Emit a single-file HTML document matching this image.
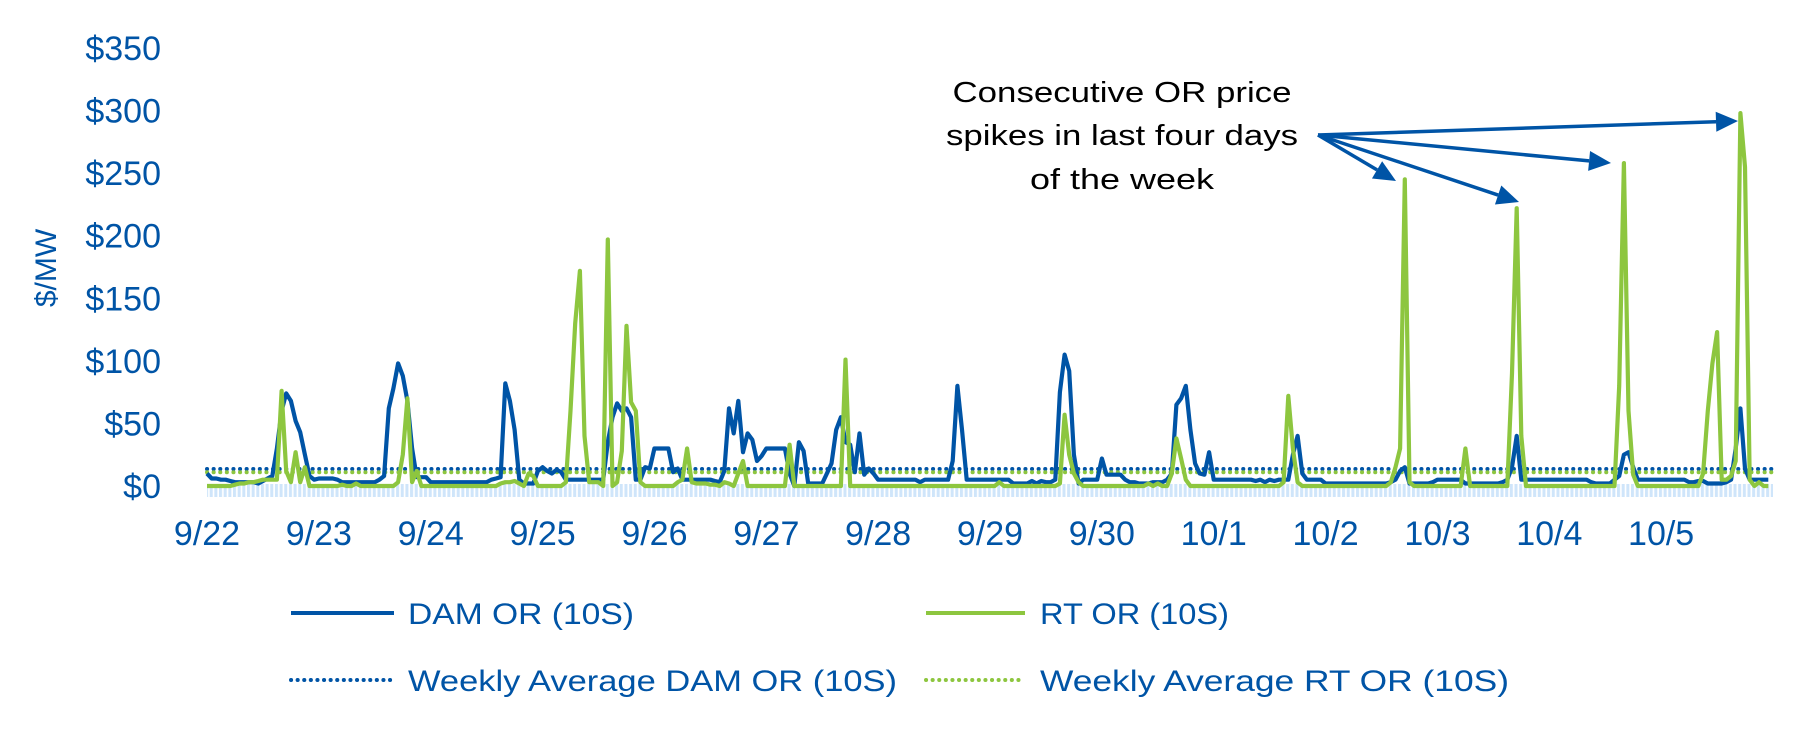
<!DOCTYPE html>
<html><head><meta charset="utf-8"><style>
html,body{margin:0;padding:0;background:#fff;}
svg{display:block;font-family:"Liberation Sans",sans-serif;}
</style></head><body>
<svg id="chart" width="1820" height="740" viewBox="0 0 1820 740">
<defs>
<pattern id="hatch" width="4.66" height="20" patternUnits="userSpaceOnUse">
<rect x="0" y="0" width="3" height="20" fill="#cfe5fa"/>
</pattern>
</defs>
<g id="yaxis"></g>
<g id="xaxis"></g>
<text transform="translate(56,268) rotate(-90)" text-anchor="middle" font-size="30" fill="#0054a6">$/MW</text>
<rect x="207" y="484" width="1566" height="13" fill="url(#hatch)"/>
<g id="marks"></g>
<g fill="#000" font-size="29" text-anchor="middle">
<text x="1122" y="102" textLength="339" lengthAdjust="spacingAndGlyphs">Consecutive OR price</text>
<text x="1122" y="145" textLength="352" lengthAdjust="spacingAndGlyphs">spikes in last four days</text>
<text x="1122" y="189" textLength="184" lengthAdjust="spacingAndGlyphs">of the week</text>
</g>
<g id="arrows"></g>
<g font-size="30" fill="#0054a6">
<g><line x1="291" y1="613" x2="394" y2="613" stroke="#0054a6" stroke-width="4"/><text x="408" y="624" textLength="226" lengthAdjust="spacingAndGlyphs">DAM OR (10S)</text></g>
<g><line x1="926" y1="613" x2="1025" y2="613" stroke="#8dc63f" stroke-width="4"/><text x="1040" y="624" textLength="189" lengthAdjust="spacingAndGlyphs">RT OR (10S)</text></g>
<g><line x1="291" y1="680" x2="394" y2="680" stroke="#0054a6" stroke-width="4" stroke-dasharray="0.1 6.5" stroke-linecap="round"/><text x="408" y="691" textLength="489" lengthAdjust="spacingAndGlyphs">Weekly Average DAM OR (10S)</text></g>
<g><line x1="926" y1="680" x2="1025" y2="680" stroke="#8dc63f" stroke-width="4" stroke-dasharray="0.1 6.5" stroke-linecap="round"/><text x="1040" y="691" textLength="469" lengthAdjust="spacingAndGlyphs">Weekly Average RT OR (10S)</text></g>
</g>
</svg>
<script>
const dayLabels=["9/22","9/23","9/24","9/25","9/26","9/27","9/28","9/29","9/30","10/1","10/2","10/3","10/4","10/5"];
const yTicks=[0,50,100,150,200,250,300,350];
const damAvg=13.6;
const rtAvg=11;
const damOR=[
10,6,6,5,5,4,3,3,3,3,3,2,4,6,8,30,60,74,68,52,43,25,8,5,
6,6,6,6,5,3,3,3,3,3,3,3,3,5,8,62,78,98,88,68,30,7,7,7,
3,3,3,3,3,3,3,3,3,3,3,3,3,5,6,7,82,68,45,5,2,2,2,12,
15,12,10,13,11,5,5,5,5,5,5,5,5,5,35,55,66,60,62,55,5,5,15,14,
30,30,30,30,11,14,5,5,5,5,5,5,5,4,3,12,62,42,68,27,42,37,20,24,
30,30,30,30,30,10,0,35,28,2,2,2,2,10,18,45,55,35,33,11,42,9,14,10,
5,5,5,5,5,5,5,5,5,3,5,5,5,5,5,5,20,80,45,5,5,5,5,5,
5,5,5,5,5,2,2,2,2,4,2,4,3,3,5,75,105,92,25,2,5,5,5,5,
22,9,9,9,9,5,3,3,2,2,2,3,3,3,5,10,65,70,80,45,18,10,9,27,
5,5,5,5,5,5,5,5,5,4,5,3,5,4,5,5,5,25,40,10,5,5,5,5,
2,2,2,2,2,2,2,2,2,2,2,2,2,2,3,5,12,15,2,2,2,2,2,3,
5,5,5,5,5,5,2,2,2,2,2,2,2,2,3,5,15,40,5,5,5,5,5,5,
5,5,5,5,5,5,5,5,5,3,2,2,2,2,5,8,25,27,15,5,5,5,5,5,
5,5,5,5,5,5,3,3,4,4,2,2,2,2,3,5,30,62,14,5,5,5,5,5];
const rtOR=[
0,0,0,0,0,0,1,2,2,3,3,4,5,5,5,5,76,12,3,27,3,15,0,0,
0,0,0,0,0,1,0,0,2,0,0,0,0,0,0,0,0,3,25,70,3,12,0,0,
0,0,0,0,0,0,0,0,0,0,0,0,0,0,0,2,3,3,4,2,0,10,8,0,
0,0,0,0,0,3,60,130,172,40,3,3,3,0,197,0,3,28,128,67,60,3,0,0,
0,0,0,0,0,3,5,30,3,2,2,2,1,1,0,3,2,0,10,20,0,0,0,0,
0,0,0,0,0,33,0,0,0,0,0,0,0,0,0,0,0,101,0,0,0,0,0,0,
0,0,0,0,0,0,0,0,0,0,0,0,0,0,0,0,0,0,0,0,0,0,0,0,
0,0,3,0,0,0,0,0,0,0,0,0,0,0,0,2,57,25,10,3,0,0,0,0,
0,0,0,0,0,0,0,0,0,0,2,0,2,0,0,10,38,22,5,0,0,0,0,0,
0,0,0,0,0,0,0,0,0,0,0,0,0,0,0,3,72,30,3,0,0,0,0,0,
0,0,0,0,0,0,0,0,0,0,0,0,0,0,3,15,30,245,3,0,0,0,0,0,
0,0,0,0,0,0,30,0,0,0,0,0,0,0,0,0,90,222,40,0,0,0,0,0,
0,0,0,0,0,0,0,0,0,0,0,0,0,0,0,80,258,60,9,0,0,0,0,0,
0,0,0,0,0,0,0,0,0,10,60,98,123,5,5,8,20,298,255,5,0,3,0,0];

const NS="http://www.w3.org/2000/svg";
const X0=207, X1=1773, Y0=486, Y350=48;
const hourW=(X1-X0)/(dayLabels.length*24);
function xH(h){return X0+h*hourW;}
function yV(v){return Y0-(v/350)*(Y0-Y350);}
function mk(tag,attrs,parent){const e=document.createElementNS(NS,tag);for(const k in attrs)e.setAttribute(k,attrs[k]);parent.appendChild(e);return e;}

const ya=document.getElementById('yaxis');
yTicks.forEach(t=>{
  const e=mk('text',{x:161,y:yV(t)+12,'text-anchor':'end','font-size':'34',fill:'#0054a6'},ya);
  
  
  e.textContent='$'+t;
});
const xa=document.getElementById('xaxis');
dayLabels.forEach((d,i)=>{
  const e=mk('text',{x:xH(i*24),y:545,'text-anchor':'middle','font-size':'34',fill:'#0054a6'},xa);
  
  
  e.textContent=d;
});
const marks=document.getElementById('marks');
const a1=mk('line',{x1:X0,x2:X1,y1:yV(damAvg),y2:yV(damAvg),stroke:'#0054a6','stroke-width':4,'stroke-dasharray':'0.1 6.5','stroke-linecap':'round'},marks);


const a2=mk('line',{x1:X0,x2:X1,y1:yV(rtAvg),y2:yV(rtAvg),stroke:'#8dc63f','stroke-width':4,'stroke-dasharray':'0.1 6.5','stroke-linecap':'round'},marks);


function series(arr,color){
  return mk('polyline',{points:arr.map((v,i)=>xH(i).toFixed(1)+','+yV(v).toFixed(1)).join(' '),fill:'none',stroke:color,'stroke-width':4.2,'stroke-linejoin':'round'},marks);
}
const s1=series(damOR,'#0054a6');


const s2=series(rtOR,'#8dc63f');



const arrows=document.getElementById('arrows');
const origin=[1318,135];
const tips=[[1396,181],[1519,202],[1611,163],[1738,121]];
tips.forEach(t=>{
  const dx=t[0]-origin[0], dy=t[1]-origin[1], L=Math.hypot(dx,dy), ux=dx/L, uy=dy/L;
  const hl=22, hw=10, bx=t[0]-ux*hl, by=t[1]-uy*hl;
  const ln=mk('line',{x1:origin[0],y1:origin[1],x2:bx,y2:by,stroke:'#0054a6','stroke-width':3.5},arrows);
  
  
  const hd=mk('polygon',{points:`${t[0]},${t[1]} ${bx-uy*hw},${by+ux*hw} ${bx+uy*hw},${by-ux*hw}`,fill:'#0054a6'},arrows);
  
  
});
</script>
</body></html>
